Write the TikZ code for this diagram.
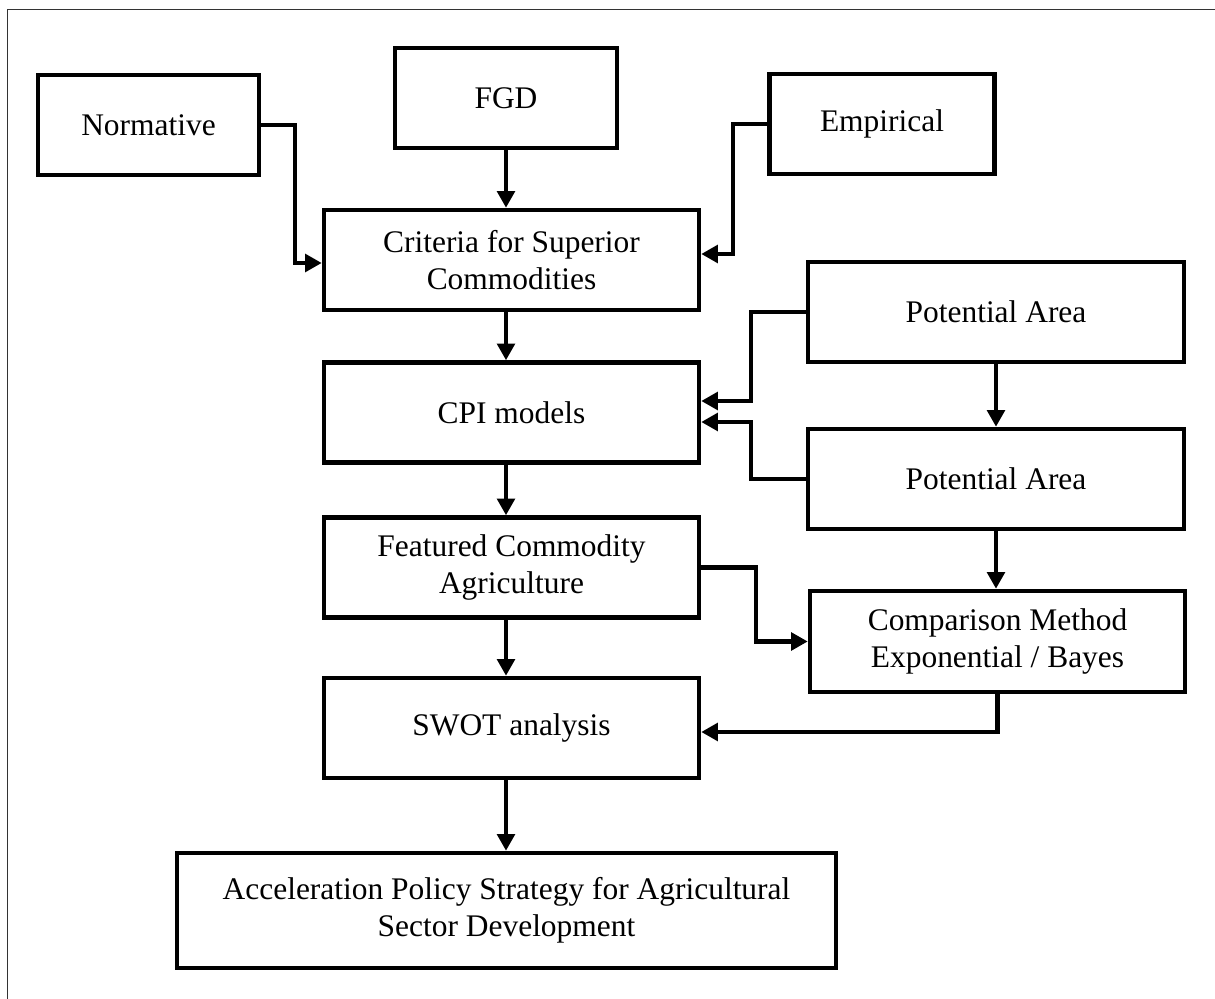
\documentclass[tikz,border=0pt]{standalone}
\usepackage{fontspec}
\setmainfont{Liberation Serif}
\usepackage{tikz}
\usetikzlibrary{arrows.meta}
\usetikzlibrary{positioning,calc}

\begin{document}
\begin{tikzpicture}[x=0.02cm, y=-0.02cm, >={Triangle[length=9.5pt,width=10pt]},
		every node/.style={font=\fontsize{17.9}{21}\selectfont}]
		\tikzstyle{box}=[draw, line width=2.6pt, align=center, inner sep=0pt,
		                 minimum width=7.5cm, minimum height=2cm]
		\tikzstyle{link}=[->, line width=2.3pt]
		
		\useasboundingbox (0,0) rectangle (1215,999);
		\draw[black!80, line width=0.8pt] (7.5,999) -- (7.5,9.5) -- (1215,9.5);
		
		\node[box, minimum width=4.42cm] (norm)  at (148.5, 125)  {Normative};
		\node[box, minimum width=4.44cm] (fgd)   at (506, 98)     {FGD};
		\node[box, minimum width=4.5cm]  (emp)   at (882, 124)    {Empirical};
		\node[box] 					     (crit)  at (511.5, 260)  {Criteria for Superior\\Commodities};
		\node[box] 					     (cpi)   at (511.5, 412.5) {CPI models};
		\node[box] 					     (feat)  at (511.5, 567.5) {Featured Commodity\\Agriculture};
		\node[box] 					     (swot)  at (511.5, 728)  {SWOT analysis};
		\node[box, minimum width=7.52cm] (pot1)  at (996, 312)    {Potential Area};
		\node[box, minimum width=7.52cm] (pot2)  at (996, 479)    {Potential Area};
		\node[box, minimum height=2.02cm] (comp) at (997.5, 641.5) {Comparison Method\\Exponential / Bayes};
		\node[box, minimum width=13.18cm, minimum height=2.3cm]
		                                 (accel) at (506.5, 910.5) {Acceleration Policy Strategy for Agricultural\\Sector Development};
		
		\coordinate (col) at (506, 0);
		
		\draw[link] (norm.east) -- ++(34,0) |- ([yshift=-0.06cm]crit.west);
		\draw[link] (fgd.south) -- (fgd.south |- crit.north);
		\draw[link] (emp.west) -- ++(-34,0) |- ([yshift=0.12cm]crit.east);
		\draw[link] (crit.south -| col) -- (cpi.north -| col);
		\draw[link] (pot1.west) -- ++(-55,0) |- ([yshift=0.23cm]cpi.east);
		\draw[link] (pot2.west) -- ++(-55,0) |- ([yshift=-0.19cm]cpi.east);
		\draw[link] (pot1.south) -- (pot2.north);
		\draw[link] (pot2.south) -- (pot2.south |- comp.north);
		\draw[link] (cpi.south -| col) -- (feat.north -| col);
		\draw[link] (feat.east) -- ++(55,0) |- (comp.west);
		\draw[link] (feat.south -| col) -- (swot.north -| col);
		\draw[link] (comp.south) |- ([yshift=-0.08cm]swot.east);
		\draw[link] (swot.south -| col) -- (accel.north -| col);
\end{tikzpicture}
\end{document}
